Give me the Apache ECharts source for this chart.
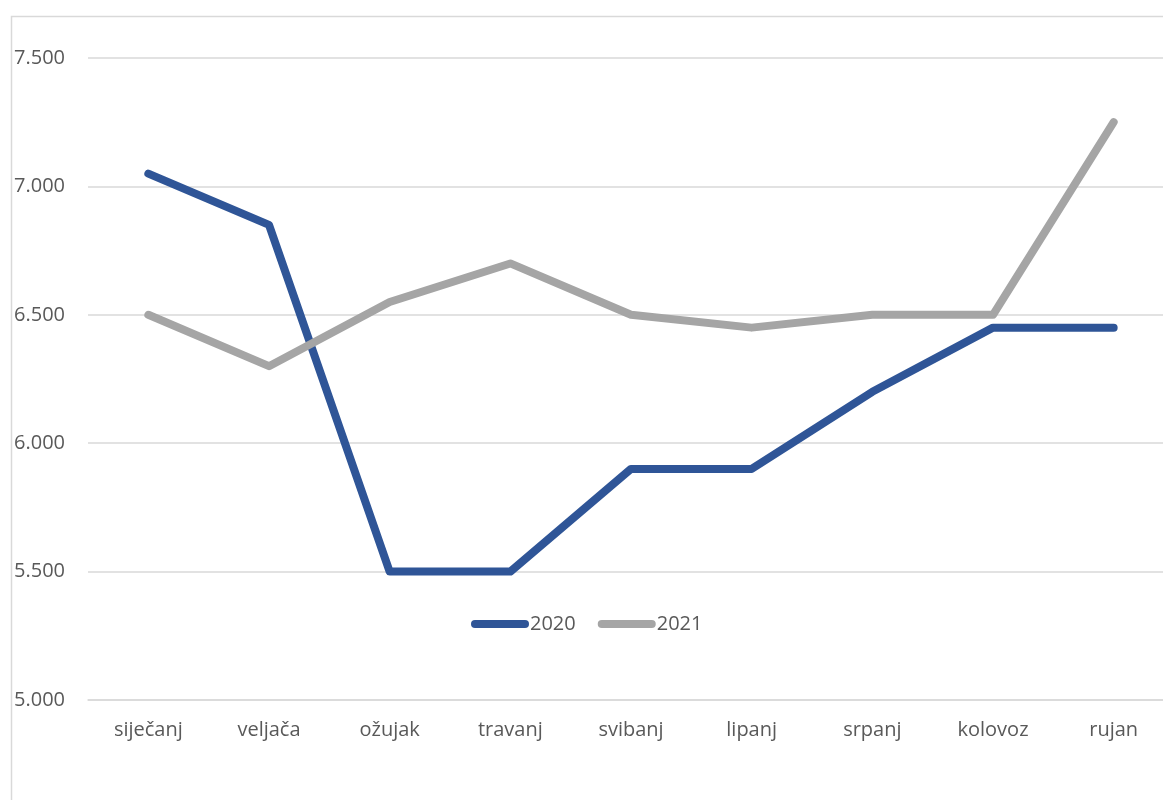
<!DOCTYPE html>
<html><head><meta charset="utf-8">
<script src="https://cdn.jsdelivr.net/npm/echarts@6/dist/echarts.min.js"></script>
<style>html,body{margin:0;padding:0;background:#fff}#c{width:1163px;height:800px}</style>
</head><body><div id="c"></div>
<script>
const categories = ['siječanj','veljača','ožujak','travanj','svibanj','lipanj','srpanj','kolovoz','rujan'];
const seriesNames = ['2020','2021'];
const values2020 = [7050, 6850, 5500, 5500, 5900, 5900, 6200, 6450, 6450];
const values2021 = [6500, 6300, 6550, 6700, 6500, 6450, 6500, 6500, 7250];
const colors = ['#2F5597', '#A5A5A5'];
const font = '"Open Sans", "Noto Sans", sans-serif';

const chart = echarts.init(document.getElementById('c'));
const legendIcon = 'path://M4,0 H54 A4,4 0 0 1 54,8 H4 A4,4 0 0 1 4,0 Z';
chart.setOption({
  animation: false,
  backgroundColor: '#fff',
  graphic: [{
    type: 'rect', left: 9, top: 14, z: -10, silent: true,
    shape: {width: 1400, height: 1000},
    style: {fill: 'none', stroke: '#d9d9d9', lineWidth: 1.5}
  }],
  grid: {left: 88, width: 1086, top: 58, height: 642, containLabel: false, outerBoundsMode: 'none'},
  legend: {
    left: 466, top: 609,
    itemWidth: 58, itemHeight: 8, itemGap: 22,
    textStyle: {fontFamily: font, fontSize: 20, color: '#595959', padding: [0,0,0,-4]},
    data: [{name: seriesNames[0], icon: legendIcon}, {name: seriesNames[1], icon: legendIcon}]
  },
  xAxis: {
    type: 'category', data: categories, boundaryGap: true,
    axisLine: {show: true, lineStyle: {color: '#d9d9d9', width: 1.5}},
    axisTick: {show: false},
    axisLabel: {fontFamily: font, fontSize: 20, color: '#595959', margin: 20}
  },
  yAxis: {
    type: 'value', min: 5000, max: 7500, interval: 500,
    axisLine: {show: false}, axisTick: {show: false},
    splitLine: {lineStyle: {color: '#d9d9d9', width: 1.5}},
    axisLabel: {
      fontFamily: font, fontSize: 20, color: '#595959', align: 'left', margin: 74,
      formatter: v => String(v).replace(/\B(?=(\d{3})+(?!\d))/g, '.')
    }
  },
  series: [
    {name: seriesNames[0], type: 'line', data: values2020, symbol: 'none', color: colors[0],
     lineStyle: {width: 8, color: colors[0], cap: 'round', join: 'round'}},
    {name: seriesNames[1], type: 'line', data: values2021, symbol: 'none', color: colors[1],
     lineStyle: {width: 8, color: colors[1], cap: 'round', join: 'round'}}
  ]
});
</script></body></html>
